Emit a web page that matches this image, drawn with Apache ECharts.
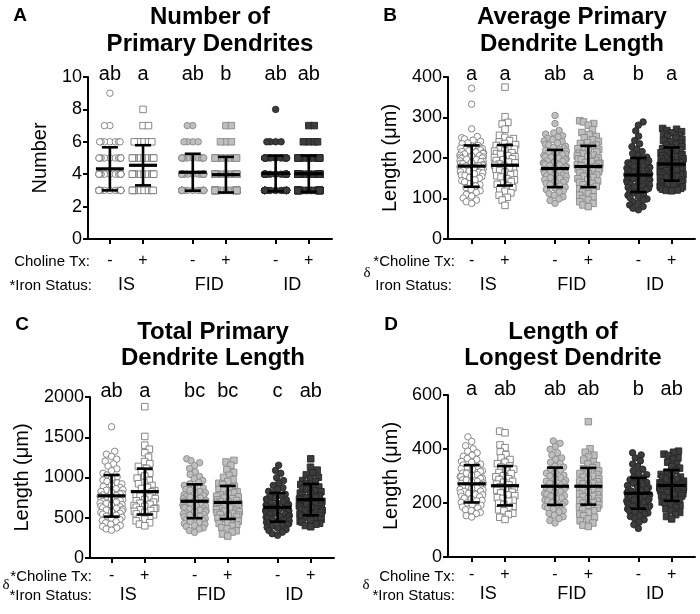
<!DOCTYPE html>
<html><head><meta charset="utf-8">
<script src="https://cdn.jsdelivr.net/npm/echarts@6/dist/echarts.min.js"></script>
<style>html,body{margin:0;padding:0;background:#fff}#c{width:700px;height:614px}</style>
</head><body><div id="c"></div>
<script>
// ---------- categories / labels ----------
const groupPos = [1, 2, 3.5, 4.5, 6, 7];
const cholineSigns = ['-', '+', '-', '+', '-', '+'];
const ironPos = [1.5, 4, 6.5];
const ironLabels = ['IS', 'FID', 'ID'];

// ---------- Panel A: Number of Primary Dendrites ----------
const aIS_minus = [9,7,7,6,6,6,6,6,6,6,5,5,5,5,5,5,5,5,5,5,5,5,4,4,4,4,4,4,4,4,4,4,4,4,4,4,4,4,4,3,3,3,3,3,3,3,3,3,3,3,3,3,3,3,3,3,3,3,3];
const aIS_plus = [8,7,7,6,6,6,6,6,5,5,5,5,5,5,5,5,5,4,4,4,4,4,4,4,4,4,3,3,3,3,3,3,3,3];
const aFID_minus = [7,7,6,6,6,6,5,5,5,5,5,5,5,5,5,5,5,5,4,4,4,4,4,4,4,4,4,4,4,4,4,4,4,4,4,4,3,3,3,3,3,3,3,3,3,3,3,3,3,3,3,3,3,3,3,3,3,3];
const aFID_plus = [7,7,6,6,6,5,5,5,5,5,5,5,5,5,5,4,4,4,4,4,4,4,4,4,4,4,4,4,4,4,4,3,3,3,3,3,3,3,3,3,3,3,3,3,3,3,3,3,3,3,3,3,3,3,3];
const aID_minus = [8,6,6,6,6,5,5,5,5,5,5,5,5,5,5,5,5,5,5,4,4,4,4,4,4,4,4,4,4,4,4,4,4,4,4,4,4,4,4,4,4,3,3,3,3,3,3,3,3,3,3,3,3,3,3,3,3,3,3,3,3,3,3,3,3,3,3];
const aID_plus = [7,7,6,6,6,6,5,5,5,5,5,5,5,5,5,5,5,5,4,4,4,4,4,4,4,4,4,4,4,4,4,4,4,4,4,4,4,4,4,4,3,3,3,3,3,3,3,3,3,3,3,3,3,3,3,3,3,3,3,3,3,3,3,3,3];
const aMeans = [4.33, 4.55, 4.12, 3.97, 4.05, 4.03];
const aSDs = [1.33, 1.24, 1.14, 1.1, 1.1, 1.12];
const aLetters = ['ab', 'a', 'ab', 'b', 'ab', 'ab'];

// ---------- Panel B: Average Primary Dendrite Length ----------
const bIS_minus = [372,333,272,253,250,247,244,241,237,235,231,229,226,224,223,220,218,216,215,213,211,210,207,206,205,203,202,200,199,197,196,193,192,191,189,187,186,184,182,181,180,178,176,175,173,172,170,168,166,165,163,161,158,157,154,152,150,146,144,141,137,134,131,127,122,119,115,110,106,101,96,92,88];
const bIS_plus = [375,302,288,284,271,256,251,248,243,240,236,233,231,228,224,222,219,217,213,211,209,206,203,201,198,196,194,190,188,185,182,180,177,174,171,169,165,162,159,156,153,149,146,142,138,135,131,127,123,118,114,108,103,96,83];
const bFID_minus = [305,285,268,262,259,255,252,249,246,242,240,237,234,232,229,226,224,221,219,217,215,212,210,208,206,203,202,200,198,196,193,192,190,188,187,184,183,181,179,178,175,174,172,170,168,166,163,162,160,158,156,154,151,150,147,145,142,140,137,134,131,128,126,122,119,116,112,108,104,99,95,88];
const bFID_plus = [292,289,285,281,270,263,258,253,250,245,241,238,236,232,229,226,223,221,218,215,212,210,207,205,203,200,198,196,194,191,189,187,185,183,181,179,177,175,173,170,168,166,163,161,158,155,152,149,146,143,140,137,134,130,127,124,120,116,112,108,104,100,96,92,88,84,80];
const bID_minus = [289,281,267,254,243,235,228,222,216,211,206,202,199,196,193,190,188,186,183,181,179,177,175,174,171,170,168,166,164,163,161,159,158,156,154,153,151,149,148,146,144,143,141,139,137,135,133,131,129,127,125,122,120,117,114,111,108,105,102,99,96,92,88,84,80,76,72];
const bID_plus = [273,271,268,265,262,259,255,253,249,246,243,241,237,234,232,228,226,223,221,218,216,213,211,208,206,204,203,200,198,197,194,192,190,188,187,184,182,181,178,176,175,172,170,169,166,164,163,160,158,157,154,152,150,148,146,143,141,139,137,135,133,131,129,127,125,123,121,120,119];
const bMeans = [180, 182, 174, 179, 158, 185];
const bSDs = [51, 50, 46, 51, 42, 41];
const bLetters = ['a', 'a', 'ab', 'a', 'b', 'a'];

// ---------- Panel C: Total Primary Dendrite Length ----------
const cIS_minus = [1630,1325,1290,1262,1228,1203,1168,1142,1108,1083,1052,1031,1008,992,968,951,933,921,904,889,877,861,848,842,827,816,803,796,784,776,764,757,743,736,724,717,703,696,684,677,663,656,644,636,623,617,604,596,583,577,564,556,544,532,521,506,494,479,466,451,436,419,404,391,374,361,345];
const cIS_plus = [1880,1510,1402,1351,1308,1252,1198,1172,1138,1113,1078,1052,1018,992,963,938,922,901,878,863,838,821,803,786,768,757,738,726,711,694,681,667,652,641,631,619,612,598,591,579,566,548,537,518,503,482,461,438,421,400];
const cFID_minus = [1232,1208,1183,1148,1112,1071,1038,1012,986,962,938,921,902,884,871,853,842,826,811,801,787,777,764,756,744,736,724,716,704,697,686,679,668,661,650,643,632,625,614,607,596,589,578,571,559,551,539,532,519,511,499,491,477,467,453,443,429,419,404,391,374,361,342,318];
const cFID_plus = [1212,1193,1152,1098,1063,1028,1002,973,952,928,912,888,874,853,841,824,811,793,784,768,759,744,736,722,714,701,693,681,673,661,653,641,633,621,613,601,593,581,573,561,553,541,533,519,509,494,486,468,457,441,429,411,397,377,362,338,322,298,272];
const cID_minus = [1152,1088,1052,998,962,928,902,873,852,828,811,791,777,758,746,731,721,707,698,685,677,664,657,645,638,627,620,608,603,592,587,576,571,561,555,544,539,528,523,512,507,497,491,479,473,462,455,443,437,424,417,403,396,381,371,354,341,321,302,282];
const cID_plus = [1232,1128,1092,1058,1033,1003,987,962,947,926,913,894,882,863,851,834,823,806,796,781,771,756,747,733,725,711,703,691,683,671,663,651,643,631,623,611,603,591,583,571,563,549,542,528,519,504,496,481,471,456,446,431,419,403,388];
const cMeans = [772, 825, 705, 690, 630, 725];
const cSDs = [258, 285, 210, 205, 178, 195];
const cLetters = ['ab', 'a', 'bc', 'bc', 'c', 'ab'];

// ---------- Panel D: Length of Longest Dendrite ----------
const dIS_minus = [445,428,412,401,392,386,377,373,365,361,354,351,344,341,335,333,327,325,319,317,311,310,305,303,298,297,292,291,286,285,280,279,274,273,268,267,262,261,256,255,250,249,244,243,238,236,231,230,225,223,218,216,210,208,202,200,194,192,185,182,175,172,165,161,153,148];
const dIS_plus = [466,460,415,405,389,379,367,361,351,346,337,333,325,321,313,309,301,297,290,287,280,277,270,267,260,257,250,247,240,237,230,227,220,217,210,207,199,195,187,183,175,171,162,157,147,139];
const dFID_minus = [430,421,409,399,386,378,367,361,351,346,337,333,325,321,313,310,303,300,293,290,283,281,275,273,267,265,259,257,251,249,243,241,235,233,227,225,219,217,211,209,203,201,195,193,187,182,177,172,167,161,155,149,142,135,126];
const dFID_plus = [501,401,388,377,370,359,353,344,339,331,327,319,316,309,306,299,296,289,287,281,279,273,271,265,263,257,255,249,247,241,239,233,231,225,223,217,215,209,207,201,199,193,191,185,181,175,171,165,159,153,147,141,134,126,118,113];
const dID_minus = [386,378,367,356,344,336,325,319,310,305,297,293,286,283,276,273,267,265,259,257,251,249,244,243,238,236,232,230,226,224,220,218,214,212,208,206,202,200,196,194,190,188,184,182,178,176,171,168,163,160,154,150,143,138,129,120,106];
const dID_plus = [392,388,381,376,367,361,351,345,335,329,319,314,306,303,296,294,288,286,281,280,275,274,270,270,266,266,262,262,258,258,254,254,250,249,246,244,240,238,234,232,228,226,221,218,213,210,204,200,194,190,183,178,171,165,157,150,141];
const dMeans = [271, 264, 262, 262, 236, 265];
const dSDs = [69, 73, 69, 68, 57, 57];
const dLetters = ['a', 'ab', 'ab', 'ab', 'b', 'ab'];

// ---------- styles ----------
const FONT = '"Liberation Sans", Arial, Helvetica, sans-serif';
const groupStyles = [
  { symbol: 'circle', color: '#ffffff', border: '#7a7a7a' },
  { symbol: 'rect',   color: '#ffffff', border: '#7a7a7a' },
  { symbol: 'circle', color: '#bfbfbf', border: '#8a8a8a' },
  { symbol: 'rect',   color: '#bfbfbf', border: '#8a8a8a' },
  { symbol: 'circle', color: '#3c3c3c', border: '#262626' },
  { symbol: 'rect',   color: '#3c3c3c', border: '#262626' }
];

const panels = [
  { groups: [aIS_minus, aIS_plus, aFID_minus, aFID_plus, aID_minus, aID_plus], means: aMeans, sds: aSDs, letters: aLetters,
    yMax: 10, yInterval: 2, yName: 'Number', nameGap: 38,
    grid: { left: 88, top: 77, width: 244, height: 162 }, xMin: 0.34, xMax: 7.7, W: 11,
    cholMargin: 14, ironMargin: 37, letterMargin: -7 },
  { groups: [bIS_minus, bIS_plus, bFID_minus, bFID_plus, bID_minus, bID_plus], means: bMeans, sds: bSDs, letters: bLetters,
    yMax: 400, yInterval: 100, yName: 'Length (μm)', nameGap: 48,
    grid: { left: 448, top: 77, width: 247, height: 162 }, xMin: 0.29, xMax: 7.7, W: 12,
    cholMargin: 14, ironMargin: 37, letterMargin: -7 },
  { groups: [cIS_minus, cIS_plus, cFID_minus, cFID_plus, cID_minus, cID_plus], means: cMeans, sds: cSDs, letters: cLetters,
    yMax: 2000, yInterval: 500, yName: 'Length (μm)', nameGap: 58,
    grid: { left: 90, top: 397, width: 244, height: 161 }, xMin: 0.35, xMax: 7.7, W: 12,
    cholMargin: 10, ironMargin: 28, letterMargin: -4 },
  { groups: [dIS_minus, dIS_plus, dFID_minus, dFID_plus, dID_minus, dID_plus], means: dMeans, sds: dSDs, letters: dLetters,
    yMax: 600, yInterval: 200, yName: 'Length (μm)', nameGap: 47,
    grid: { left: 448, top: 395, width: 247, height: 162 }, xMin: 0.29, xMax: 7.7, W: 12,
    cholMargin: 10, ironMargin: 28, letterMargin: -4 }
];

// beeswarm layout (pixel offsets computed from values), softly compressed to width W
function swarmOffsets(values, pxPerY, d, W) {
  const pts = values.map((v, i) => ({ y: v * pxPerY, i: i, x: 0 }));
  const order = pts.slice().sort((a, b) => a.y - b.y);
  const placed = [];
  let flip = 1;
  order.forEach(p => {
    const intervals = [];
    placed.forEach(q => {
      const dy = Math.abs(q.y - p.y);
      if (dy < d) { const dx = Math.sqrt(d * d - dy * dy); intervals.push([q.x - dx, q.x + dx]); }
    });
    const cands = [0];
    intervals.forEach(iv => { cands.push(iv[0], iv[1]); });
    const valid = cands.filter(c => intervals.every(iv => c <= iv[0] + 1e-6 || c >= iv[1] - 1e-6));
    valid.sort((a, b) => (Math.abs(a) - Math.abs(b)) || ((b - a) * flip));
    p.x = valid[0];
    flip = -flip;
    placed.push(p);
  });
  return pts.map(p => W * Math.tanh(p.x / W));
}

const grids = [], xAxes = [], yAxes = [], series = [];
panels.forEach((P, pi) => {
  grids.push(Object.assign({ outerBoundsMode: 'none', containLabel: false }, P.grid));
  const pxPerX = P.grid.width / (P.xMax - P.xMin);
  const pxPerY = P.grid.height / P.yMax;
  // main x axis (choline signs)
  xAxes.push({ gridIndex: pi, type: 'value', min: P.xMin, max: P.xMax, position: 'bottom',
    axisLine: { show: true, onZero: false, lineStyle: { color: '#000', width: 2 } },
    axisTick: { show: true, customValues: groupPos, length: 5, lineStyle: { color: '#000', width: 2 } },
    axisLabel: { show: true, customValues: groupPos, margin: P.cholMargin, fontSize: 16, color: '#000', fontFamily: FONT,
      formatter: v => cholineSigns[groupPos.indexOf(v)] || '' },
    splitLine: { show: false } });
  // iron status axis
  xAxes.push({ gridIndex: pi, type: 'value', min: P.xMin, max: P.xMax, position: 'bottom', offset: 0,
    axisLine: { show: false }, axisTick: { show: false }, splitLine: { show: false },
    axisLabel: { show: true, customValues: ironPos, margin: P.ironMargin, fontSize: 18, color: '#000', fontFamily: FONT,
      formatter: v => ironLabels[ironPos.indexOf(v)] || '' } });
  // significance letters axis (top)
  xAxes.push({ gridIndex: pi, type: 'value', min: P.xMin, max: P.xMax, position: 'top',
    axisLine: { show: false }, axisTick: { show: false }, splitLine: { show: false },
    axisLabel: { show: true, customValues: groupPos, margin: P.letterMargin, fontSize: 20, color: '#000', fontFamily: FONT,
      formatter: v => P.letters[groupPos.indexOf(v)] || '' } });
  yAxes.push({ gridIndex: pi, type: 'value', min: 0, max: P.yMax, interval: P.yInterval,
    axisLine: { show: true, lineStyle: { color: '#000', width: 2 } },
    axisTick: { show: true, length: 5, lineStyle: { color: '#000', width: 2 } },
    axisLabel: { fontSize: 18, color: '#000', margin: 6, fontFamily: FONT, formatter: v => String(v) },
    splitLine: { show: false },
    name: P.yName, nameLocation: 'middle', nameGap: P.nameGap,
    nameTextStyle: { fontSize: 20, color: '#000', fontFamily: FONT } });

  P.groups.forEach((vals, g) => {
    const offs = swarmOffsets(vals, pxPerY, 6, P.W);
    const st = groupStyles[g];
    series.push({ type: 'scatter', xAxisIndex: pi * 3, yAxisIndex: pi, silent: true, animation: false,
      symbol: st.symbol, symbolSize: 6.5, z: 2,
      itemStyle: { color: st.color, borderColor: st.border, borderWidth: 0.9, opacity: 1 },
      data: vals.map((v, i) => [groupPos[g] + offs[i] / pxPerX, v]) });
  });
  series.push({ type: 'custom', xAxisIndex: pi * 3, yAxisIndex: pi, silent: true, animation: false, z: 10,
    data: groupPos.map((x, g) => [x, P.means[g], P.sds[g]]),
    renderItem: function (params, api) {
      const x = api.value(0), m = api.value(1), s = api.value(2);
      const c = api.coord([x, m]), t = api.coord([x, m + s]), b = api.coord([x, m - s]);
      const hw = 14, cw = 8;
      const st = { stroke: '#000', lineWidth: 2.6 };
      return { type: 'group', children: [
        { type: 'line', shape: { x1: t[0], y1: t[1], x2: b[0], y2: b[1] }, style: st },
        { type: 'line', shape: { x1: t[0] - cw, y1: t[1], x2: t[0] + cw, y2: t[1] }, style: st },
        { type: 'line', shape: { x1: b[0] - cw, y1: b[1], x2: b[0] + cw, y2: b[1] }, style: st },
        { type: 'line', shape: { x1: c[0] - hw, y1: c[1], x2: c[0] + hw, y2: c[1] }, style: { stroke: '#000', lineWidth: 3.2 } }
      ] };
    } });
});

function txt(text, x, y, font, align, fontFamily) {
  return { type: 'text', silent: true, style: { text: text, x: x, y: y, fill: '#000',
    font: font + ' ' + (fontFamily || FONT), textAlign: align || 'center', textVerticalAlign: 'middle' } };
}
const graphics = [
  txt('A', 20, 16, 'bold 19px'), txt('B', 390, 16, 'bold 19px'),
  txt('C', 22, 325, 'bold 19px'), txt('D', 391, 325, 'bold 19px'),
  txt('Number of', 210, 17, 'bold 24px'), txt('Primary Dendrites', 210, 44, 'bold 24px'),
  txt('Average Primary', 572, 17, 'bold 24px'), txt('Dendrite Length', 572, 44, 'bold 24px'),
  txt('Total Primary', 213, 332, 'bold 24px'), txt('Dendrite Length', 213, 358, 'bold 24px'),
  txt('Length of', 563, 332, 'bold 24px'), txt('Longest Dendrite', 563, 358, 'bold 24px'),
  txt('Choline Tx:', 90, 262, '15px', 'right'), txt('*Iron Status:', 92, 286, '15px', 'right'),
  txt('*Choline Tx:', 455, 262, '15px', 'right'), txt('Iron Status:', 452, 286, '15px', 'right'),
  txt('δ', 367, 273, '15px', 'center', '"Liberation Serif", serif'),
  txt('*Choline Tx:', 92, 577, '15px', 'right'), txt('*Iron Status:', 92, 596, '15px', 'right'),
  txt('δ', 6, 585, '15px', 'center', '"Liberation Serif", serif'),
  txt('Choline Tx:', 455, 577, '15px', 'right'), txt('*Iron Status:', 455, 596, '15px', 'right'),
  txt('δ', 366, 585, '15px', 'center', '"Liberation Serif", serif')
];

const chart = echarts.init(document.getElementById('c'), null, { renderer: 'canvas' });
chart.setOption({
  backgroundColor: '#fff', animation: false,
  textStyle: { fontFamily: FONT },
  grid: grids, xAxis: xAxes, yAxis: yAxes, series: series, graphic: graphics
});
</script></body></html>
